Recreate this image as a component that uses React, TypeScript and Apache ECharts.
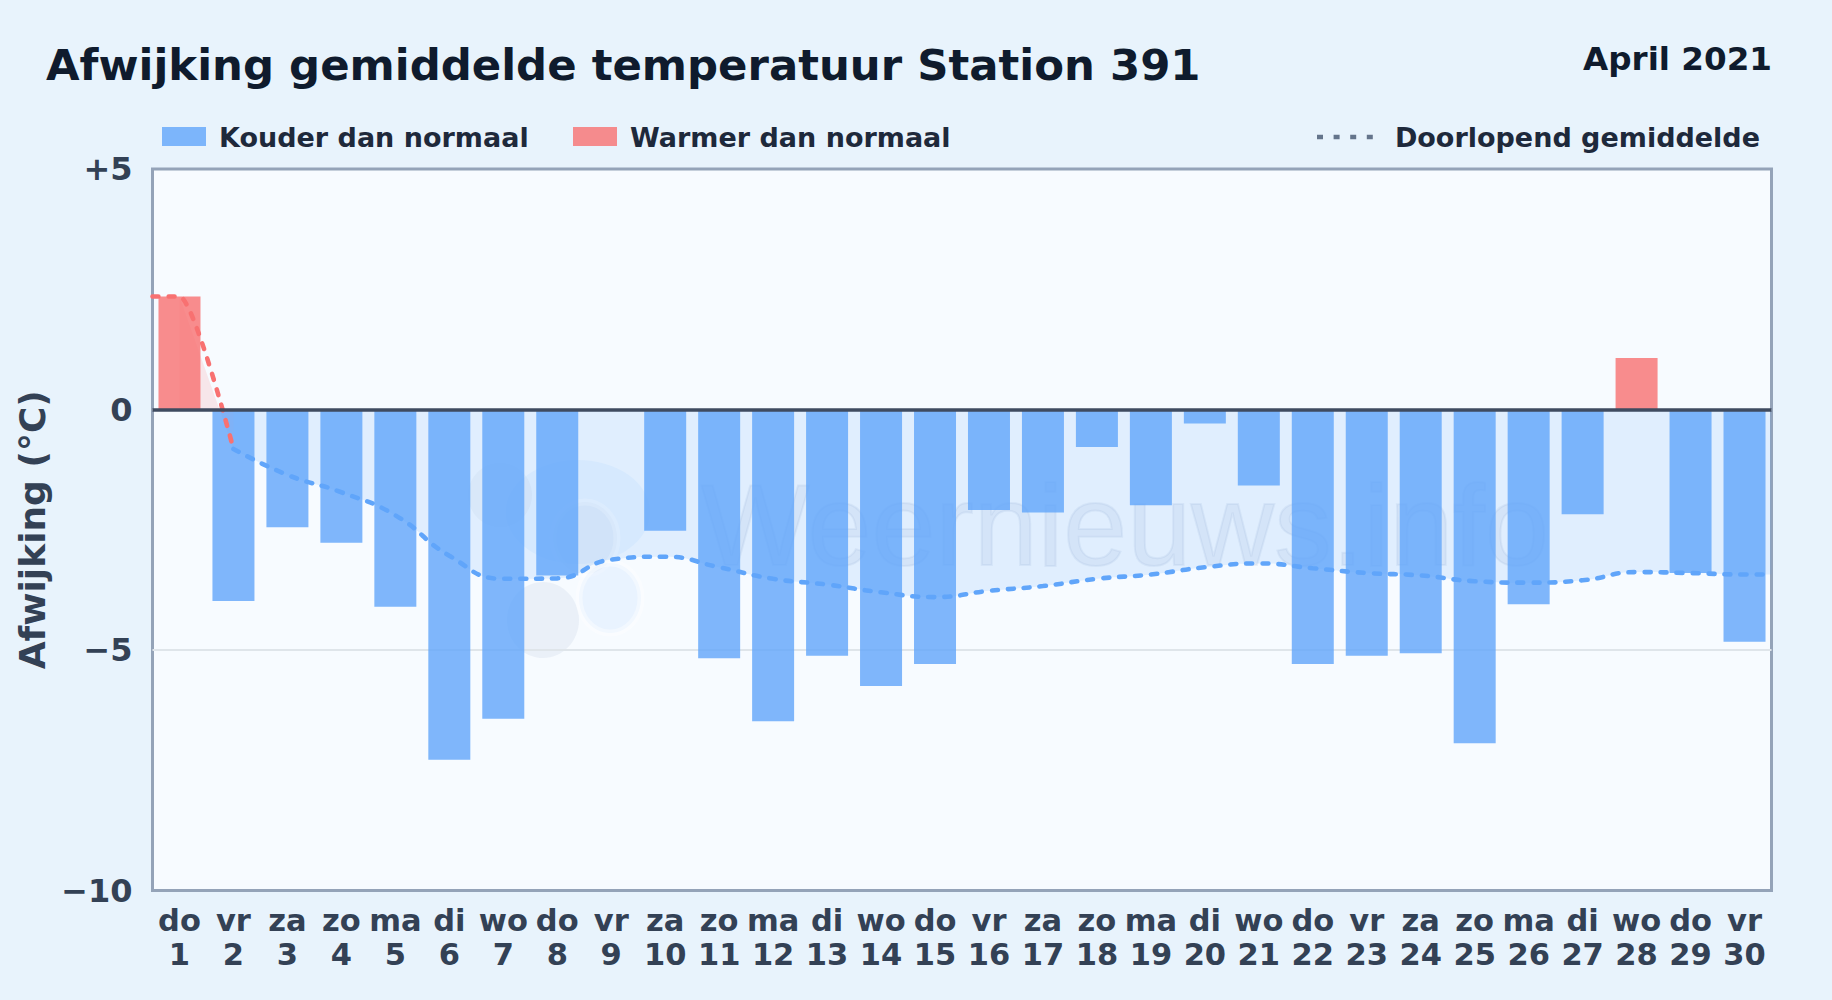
import React, { useEffect, useRef } from "react";
import * as echarts from "echarts";

const FONT = "DejaVu Sans";
const weekdays = ["do","vr","za","zo","ma","di","wo","do","vr","za","zo","ma","di","wo","do","vr","za","zo","ma","di","wo","do","vr","za","zo","ma","di","wo","do","vr"];
const dayNumbers = Array.from({ length: 30 }, (_, i) => String(i + 1));
const deviations = [2.35,-3.98,-2.45,-2.77,-4.1,-7.28,-6.43,-3.45,0,-2.52,-5.17,-6.48,-5.12,-5.75,-5.29,-2.09,-2.14,-0.78,-1.99,-0.29,-1.58,-5.29,-5.12,-5.07,-6.94,-4.05,-2.18,1.07,-3.4,-4.83];
const runningWarm: [number, number][] = [[0.5,2.35],[1,2.35],[2,-0.82]];
const runningWarmArea: [number, number][] = [[1,2.35],[2,-0.82]];
const runningCold: [number, number][] = [[2,-0.82],[3,-1.36],[4,-1.72],[5,-2.2],[6,-3.04],[7,-3.52],[8,-3.51],[9,-3.12],[10,-3.06],[11,-3.28],[12,-3.52],[13,-3.64],[14,-3.8],[15,-3.9],[16,-3.77],[17,-3.67],[18,-3.52],[19,-3.43],[20,-3.28],[21,-3.2],[22,-3.3],[23,-3.4],[24,-3.45],[25,-3.57],[26,-3.6],[27,-3.55],[28,-3.38],[29,-3.4],[30,-3.43],[30.5,-3.43]];

const BLUE = "#60a5fa";
const RED = "#f87171";
const BLUE_BAR = "rgba(96,165,250,0.8)";
const RED_BAR = "rgba(248,113,113,0.8)";

const GRID = { left: 152.5, right: 60.5, top: 169, bottom: 109.5 };
const DASH = { width: 4.6, type: [6, 10], cap: "round" };

export default function App() {
  const ref = useRef<HTMLDivElement>(null);
  useEffect(() => {
    const chart = echarts.init(ref.current!, undefined, { renderer: "svg" });
    const wm = "rgba(90,120,170,0.085)";
    chart.setOption({
      animation: false,
      backgroundColor: "#e8f3fc",
      textStyle: { fontFamily: FONT },
      grid: { ...GRID, outerBoundsMode: "none", containLabel: false, show: true, backgroundColor: "#f7fbff", borderColor: "#94a3b8", borderWidth: 3 },
      xAxis: [
        {
          type: "category",
          data: weekdays.map((d, i) => d + "\n" + dayNumbers[i]),
          axisLine: { show: false },
          axisTick: { show: false },
          axisLabel: { interval: 0, color: "#334155", fontSize: 30.5, fontWeight: "bold", fontFamily: FONT, lineHeight: 34, margin: 13 },
        },
        { type: "value", min: 0.5, max: 30.5, show: false },
      ],
      yAxis: {
        type: "value",
        min: -10,
        max: 5,
        interval: 5,
        name: "Afwijking (°C)",
        nameLocation: "middle",
        nameGap: 90,
        nameTextStyle: { color: "#334155", fontSize: 36, fontWeight: "bold", fontFamily: FONT },
        axisLine: { show: false },
        axisTick: { show: false },
        axisLabel: {
          color: "#334155",
          fontSize: 32,
          fontWeight: "bold",
          fontFamily: FONT,
          margin: 20,
          formatter: (v: number) => (v > 0 ? "+" + v : v < 0 ? "\u2212" + Math.abs(v) : "0"),
        },
        splitLine: { show: true, showMinLine: false, showMaxLine: false, lineStyle: { color: "#dfe5ea", width: 2 } },
      },
      legend: { show: false },
      graphic: [
        { type: "text", left: 46, top: 43, z: 5, style: { text: "Afwijking gemiddelde temperatuur Station 391", fill: "#0f1b2d", font: `bold 43.4px "${FONT}"` } },
        { type: "text", right: 60, top: 42, z: 5, style: { text: "April 2021", fill: "#0f1b2d", font: `bold 32.6px "${FONT}"` } },
        { type: "rect", shape: { x: 162, y: 127, width: 44, height: 19 }, style: { fill: BLUE_BAR } },
        { type: "text", left: 219, top: 124, style: { text: "Kouder dan normaal", fill: "#1e293b", font: `bold 27px "${FONT}"` } },
        { type: "rect", shape: { x: 573, y: 127, width: 44, height: 19 }, style: { fill: RED_BAR } },
        { type: "text", left: 630, top: 124, style: { text: "Warmer dan normaal", fill: "#1e293b", font: `bold 27px "${FONT}"` } },
        { type: "line", shape: { x1: 1317, y1: 137, x2: 1373, y2: 137 }, style: { stroke: "#64748b", lineWidth: 4.5, lineDash: [6, 10.6] } },
        { type: "text", right: 72, top: 124, style: { text: "Doorlopend gemiddelde", fill: "#1e293b", font: `bold 27px "${FONT}"` } },
        { type: "text", left: 700, top: 466, z: 0, style: { text: "Weernieuws.info", fill: wm, stroke: wm, lineWidth: 2, font: `115px "Liberation Sans"` } },
        { type: "ellipse", z: 0, shape: { cx: 578, cy: 512, rx: 72, ry: 52 }, style: { fill: "rgba(96,165,250,0.07)" } },
        { type: "ellipse", z: 0, shape: { cx: 500, cy: 495, rx: 32, ry: 32 }, style: { fill: "rgba(90,120,160,0.05)" } },
        { type: "ellipse", z: 0, shape: { cx: 585, cy: 538, rx: 32, ry: 36 }, style: { fill: "rgba(90,120,160,0.05)", stroke: "rgba(255,255,255,0.35)", lineWidth: 7 } },
        { type: "ellipse", z: 0, shape: { cx: 543, cy: 620, rx: 36, ry: 38 }, style: { fill: "rgba(90,120,160,0.08)" } },
        { type: "ellipse", z: 0, shape: { cx: 610, cy: 598, rx: 31, ry: 35 }, style: { fill: "rgba(96,165,250,0.09)", stroke: "rgba(255,255,255,0.4)", lineWidth: 7 } },
      ],
      series: [
        {
          type: "line", xAxisIndex: 1, data: runningWarmArea, symbol: "none", z: 1,
          lineStyle: { width: 0 }, areaStyle: { color: RED, opacity: 0.15, origin: 0 },
        },
        {
          type: "line", xAxisIndex: 1, data: runningCold, smooth: 0.5, symbol: "none", z: 1,
          lineStyle: { width: 0 }, areaStyle: { color: BLUE, opacity: 0.15, origin: 0 },
        },
        {
          type: "bar", data: deviations.map((v) => ({ value: v, itemStyle: { color: v > 0 ? RED_BAR : BLUE_BAR } })),
          barWidth: 42, z: 2,
          markLine: {
            silent: true, symbol: "none", label: { show: false },
            lineStyle: { color: "#3f4b60", width: 3.5, type: "solid" },
            data: [{ yAxis: 0 }],
          },
        },
        {
          type: "line", xAxisIndex: 1, data: runningWarm, smooth: 0.2, symbol: "none", z: 3,
          lineStyle: { color: RED, ...DASH },
        },
        {
          type: "line", xAxisIndex: 1, data: runningCold, smooth: 0.5, symbol: "none", z: 3,
          lineStyle: { color: BLUE, ...DASH },
        },
      ],
    });
    return () => chart.dispose();
  }, []);
  return <div ref={ref} style={{ position: "fixed", left: 0, top: 0, width: 1832, height: 1000 }} />;
}
